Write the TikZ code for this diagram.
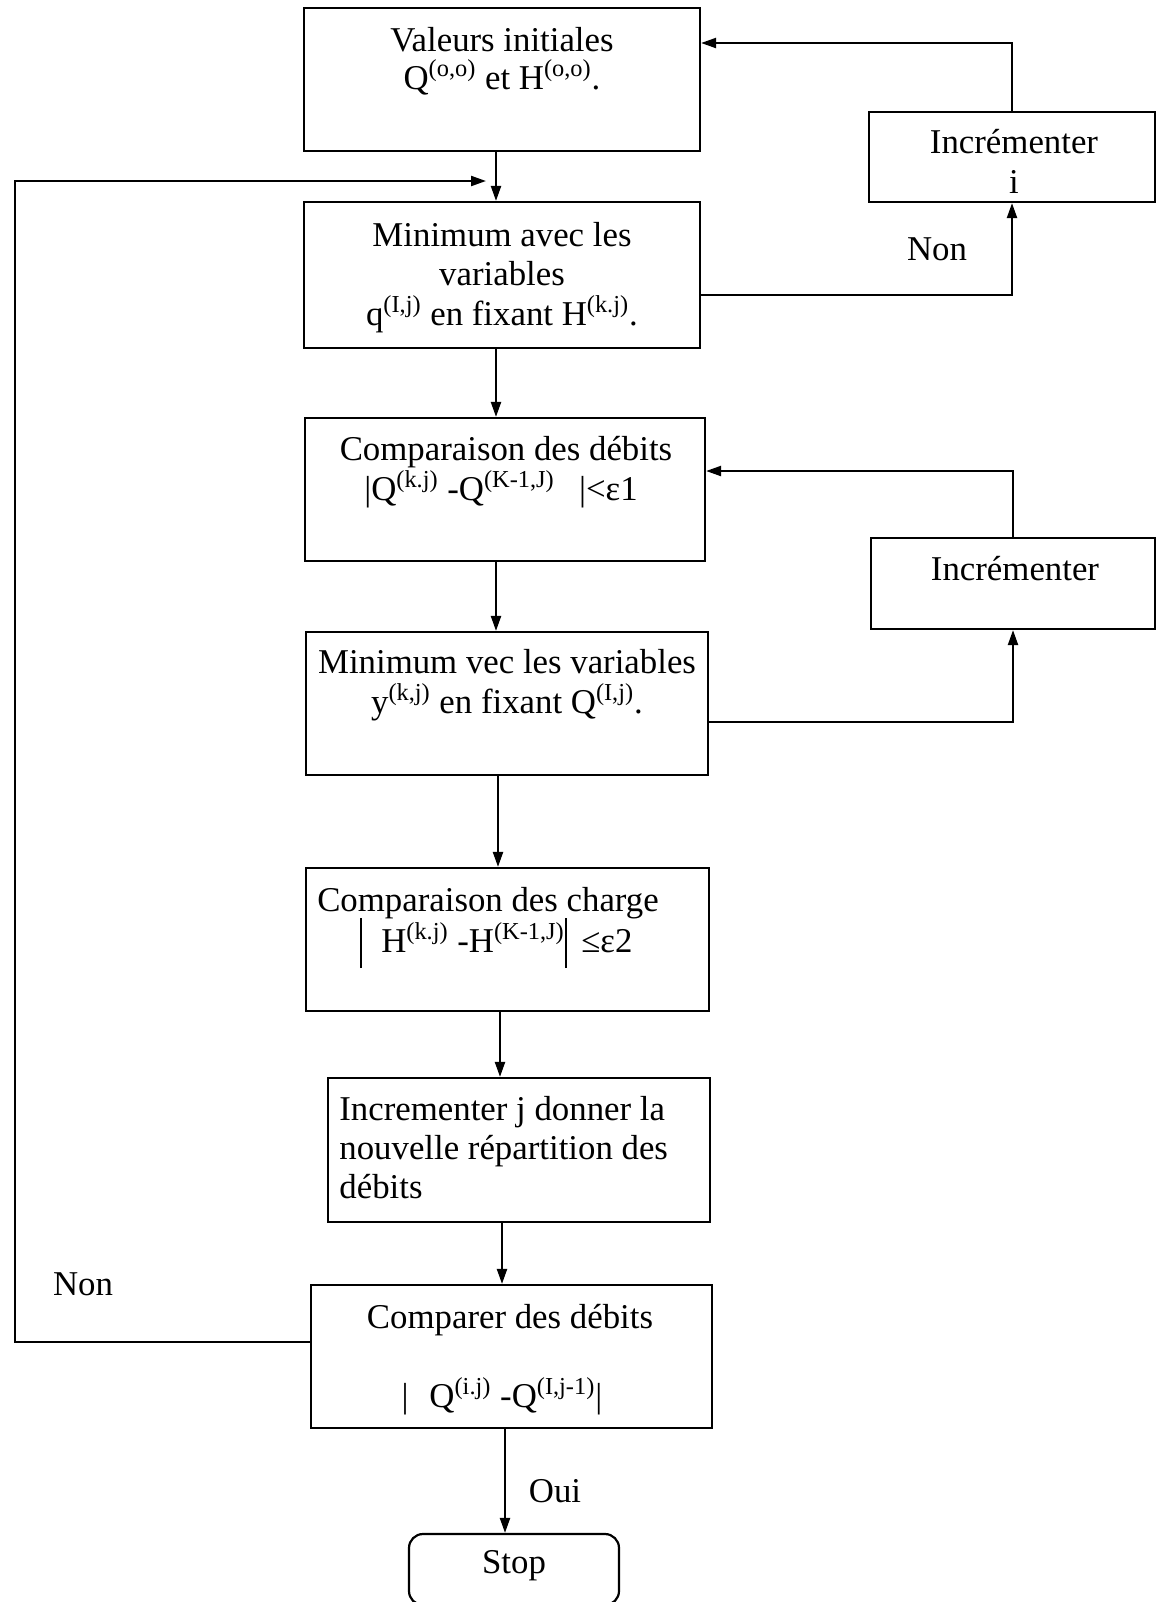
\documentclass[tikz,border=0pt]{standalone}
\usepackage{fontspec}
\setmainfont{Liberation Serif}
\usetikzlibrary{arrows.meta}
\newcommand{\tallbar}{\rule[-8pt]{1.3pt}{25pt}}
\begin{document}
\begin{tikzpicture}[x=0.5pt,y=-0.5pt,
  box/.style={draw, line width=1.1pt, inner sep=0pt},
  txt/.style={font=\fontsize{17.4}{19.5}\selectfont, inner sep=0pt, anchor=base},
  ltxt/.style={txt, anchor=base west},
  arr/.style={line width=1.1pt, -{Triangle[length=7.5pt,width=5pt]}}
]
\useasboundingbox (0,0) rectangle (1159,1602);
\fill[white] (0,0) rectangle (1159,1602);

% boxes
\node[box, minimum width=198pt, minimum height=71.5pt] (b1) at (502,79.5) {};
\node[box, minimum width=198pt, minimum height=73pt] (b2) at (502,275) {};
\node[box, minimum width=200pt, minimum height=71.5pt] (b3) at (505,489.5) {};
\node[box, minimum width=201pt, minimum height=71.5pt] (b4) at (507,703.5) {};
\node[box, minimum width=201.5pt, minimum height=71.5pt] (b5) at (507.5,939.5) {};
\node[box, minimum width=191pt, minimum height=72pt] (b6) at (519,1150) {};
\node[box, minimum width=200.5pt, minimum height=71.5pt] (b7) at (511.5,1356.5) {};
\begin{scope}
\clip (0,0) rectangle (1159,1602);
\node[box, rounded corners=7pt, minimum width=105pt, minimum height=35.5pt] (stop) at (514,1569.5) {};
\end{scope}
\node[box, minimum width=143pt, minimum height=45pt] (inc1) at (1012,157) {};
\node[box, minimum width=142pt, minimum height=45.5pt] (inc2) at (1013,583.5) {};

% texts
\node[txt] (t1a) at (502,51) {Valeurs initiales};
\node[txt] (t1b) at (502,89) {Q\textsuperscript{(o,o)} et H\textsuperscript{(o,o)}.};
\node[txt] (t2a) at (502,246) {Minimum avec les};
\node[txt] (t2b) at (502,285) {variables};
\node[txt] (t2c) at (502,325) {q\textsuperscript{(I,j)} en fixant H\textsuperscript{(k.j)}.};
\node[txt] (t3a) at (506,460) {Comparaison des débits};
\node[txt] (t3b) at (501,500) {|Q\textsuperscript{(k.j)} -Q\textsuperscript{(K-1,J)}\hspace{0.7em}|<ε1};
\node[txt] (t4a) at (507,673) {Minimum vec les variables};
\node[txt] (t4b) at (507,713) {y\textsuperscript{(k,j)} en fixant Q\textsuperscript{(I,j)}.};
\node[txt] (t5a) at (488,911) {Comparaison des charge};
\node[txt] (t5b) at (496,952) {\tallbar\hspace{0.55em}H\textsuperscript{(k.j)} -H\textsuperscript{(K-1,J)}\tallbar\hspace{0.4em}≤ε2};
\node[ltxt] (t6a) at (339,1120) {Incrementer j donner la};
\node[ltxt] (t6b) at (339,1159) {nouvelle répartition des};
\node[ltxt] (t6c) at (339,1198) {débits};
\node[txt] (t7a) at (510,1328) {Comparer des débits};
\node[txt] (t7b) at (502,1407) {|\hspace{0.6em}Q\textsuperscript{(i.j)} -Q\textsuperscript{(I,j-1)}|};
\node[txt] (ts) at (514,1573) {Stop};
\node[txt] (ti1a) at (1014,153) {Incrémenter};
\node[txt] (ti1b) at (1014,193) {i};
\node[txt] (ti2) at (1015,580) {Incrémenter};
\node[txt] (non1) at (937,260) {Non};
\node[txt] (non2) at (83,1295) {Non};
\node[txt] (oui) at (555,1502) {Oui};

% helper coordinates
\coordinate (xa) at (496,0);
\coordinate (xb) at (498,0);
\coordinate (xc) at (500,0);
\coordinate (xd) at (502,0);
\coordinate (xe) at (505,0);
\coordinate (y0) at (0,43);
\coordinate (y1) at (0,295);
\coordinate (y2) at (0,471);
\coordinate (y3) at (0,722);
\coordinate (yl) at (0,1342);
\coordinate (xl) at (15,0);
\coordinate (tip) at (486,181);

% main flow
\draw[arr] (b1.south -| xa) -- (b2.north -| xa);
\draw[arr] (b2.south -| xa) -- (b3.north -| xa);
\draw[arr] (b3.south -| xa) -- (b4.north -| xa);
\draw[arr] (b4.south -| xb) -- (b5.north -| xb);
\draw[arr] (b5.south -| xc) -- (b6.north -| xc);
\draw[arr] (b6.south -| xd) -- (b7.north -| xd);
\draw[arr] (b7.south -| xe) -- (stop.north -| xe);

% loops
\draw[arr] (b2.east |- y1) -| (inc1.south);
\draw[arr] (inc1.north) |- (b1.east |- y0);
\draw[arr] (b4.east |- y3) -| (inc2.south);
\draw[arr] (inc2.north) |- (b3.east |- y2);
\draw[arr] (b7.west |- yl) -- (xl |- yl) -- (xl |- tip) -- (tip);
\end{tikzpicture}
\end{document}
